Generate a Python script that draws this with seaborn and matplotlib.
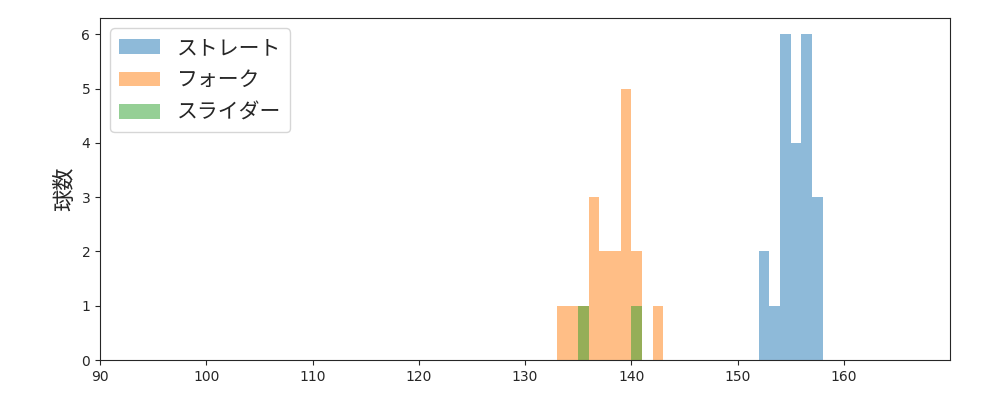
import numpy as np
import pandas as pd
import seaborn as sns
import matplotlib.pyplot as plt

# pitch speeds (km/h) (1 km/h bins)
straight = [152.5, 152.5, 153.5, 154.5, 154.5, 154.5, 154.5, 154.5, 154.5,
            155.5, 155.5, 155.5, 155.5, 156.5, 156.5, 156.5, 156.5, 156.5, 156.5,
            157.5, 157.5, 157.5]
fork = [133.5, 134.5, 135.5, 136.5, 136.5, 136.5, 137.5, 137.5, 138.5, 138.5,
        139.5, 139.5, 139.5, 139.5, 139.5, 140.5, 140.5, 142.5]
slider = [135.5, 140.5]

names = ["ストレート", "フォーク", "スライダー"]
colors = ["#1f77b4", "#ff7f0e", "#2ca02c"]

sns.set_style("ticks")
plt.rcParams['font.family'] = ['DejaVu Sans', 'Noto Sans CJK JP']

fig, ax = plt.subplots(figsize=(10, 4), dpi=100)
bins = np.arange(90, 171, 1)
for vals, name, c in zip([straight, fork, slider], names, colors):
    sns.histplot(x=vals, bins=bins, color=c, alpha=0.5, edgecolor=None,
                 linewidth=0, label=name, ax=ax)

ax.set_xlim(90, 170)
ax.set_ylim(0, 6.3)
ax.set_xticks(range(90, 170, 10))
ax.set_yticks(range(0, 7))
ax.set_ylabel("球数", fontsize=16, family=['Noto Sans CJK JP'])
leg = ax.legend(loc="upper left", fontsize=15, prop={'family': ['Noto Sans CJK JP'], 'size': 15})
fig.subplots_adjust(left=0.1, right=0.95, top=0.955, bottom=0.1)
fig.savefig("out.png")
